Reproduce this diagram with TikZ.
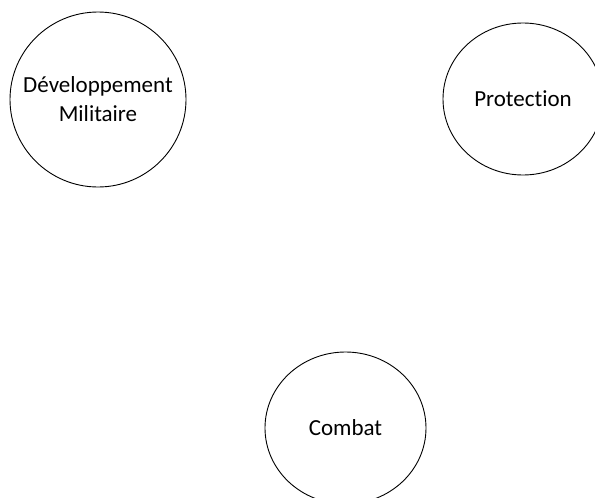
\documentclass[tikz,border=0pt]{standalone}
\usepackage{fontspec}
\setmainfont[Ligatures={NoCommon,NoRare,NoDiscretionary}]{Carlito}
\usetikzlibrary{shapes.geometric}
\begin{document}
\begin{tikzpicture}[x=1pt,y=-1pt,
  bubble/.style={draw=black,line width=0.9pt,ellipse,inner sep=0pt},
  txt/.style={font=\fontsize{23}{29}\selectfont,align=center,inner sep=0pt}]
\useasboundingbox (0,0) rectangle (595,498);
\begin{scope}
\clip (0,0) rectangle (595,498);
\node[bubble,minimum width=176pt,minimum height=175pt] (dev) at (98,99.5) {};
\node[txt] (devt) at (dev.center) {Développement\\Militaire};
\node[bubble,minimum width=160pt,minimum height=152pt] (prot) at (523,99) {};
\node[txt] (prott) at (prot.center) {Protection};
\node[bubble,minimum width=161pt,minimum height=152pt] (comb) at (345.5,428) {};
\node[txt] (combt) at (comb.center) {Combat};
\end{scope}
\end{tikzpicture}
\end{document}
